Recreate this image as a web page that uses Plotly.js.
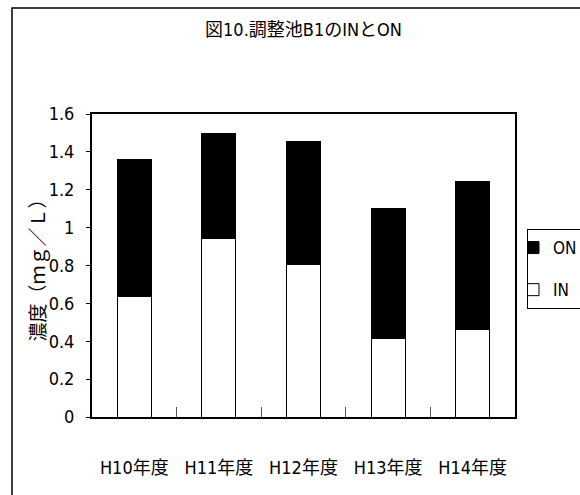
<!DOCTYPE html>
<html>
<head>
<meta charset="utf-8">
<script src="https://cdn.plot.ly/plotly-3.0.1.min.js"></script>
<style>
  html, body { margin: 0; padding: 0; background: #fff; }
  #chart { width: 580px; height: 495px; }
  /* condensed faces for the Latin text */
  #chart text { font-stretch: condensed; }
</style>
</head>
<body>
<div id="chart"></div>
<script>
// 調整池B1 の無機態窒素(IN)と有機態窒素(ON)、年度別
const years = ['H10年度', 'H11年度', 'H12年度', 'H13年度', 'H14年度'];
const inValues = [0.635, 0.94, 0.805, 0.415, 0.46];
const onValues = [0.725, 0.555, 0.65, 0.685, 0.785];
const yTickVals = [0, 0.2, 0.4, 0.6, 0.8, 1, 1.2, 1.4, 1.6];
const yTickText = ['0', '0.2', '0.4', '0.6', '0.8', '1', '1.2', '1.4', '1.6'];
const yTitle = '濃度（ｍｇ／Ｌ）';

const FONT = '"DejaVu Sans", "Noto Sans CJK JP", sans-serif';
const BLACK = '#000000';

const traces = [
  {
    type: 'bar', name: 'IN', x: years, y: inValues, legendgroup: 'in', legendrank: 2,
    marker: { color: '#ffffff', line: { color: BLACK, width: 1 } }
  },
  {
    type: 'bar', name: 'ON', x: years, y: onValues, legendgroup: 'on', legendrank: 1,
    marker: { color: BLACK, line: { color: BLACK, width: 1 } }
  }
];

const layout = {
  width: 580, height: 495,
  margin: { l: 92, r: 65, t: 114, b: 78 },
  paper_bgcolor: '#ffffff', plot_bgcolor: '#ffffff',
  font: { family: FONT, size: 17, color: BLACK },
  barmode: 'stack',
  bargap: 0.6,
  showlegend: true,
  title: {
    text: '図10.調整池B1のINとON',
    font: { family: FONT, size: 18, color: BLACK },
    x: 0.5, xref: 'paper', xanchor: 'center',
    y: 1 - 30 / 495, yref: 'container', yanchor: 'middle'
  },
  xaxis: {
    type: 'category',
    showline: true, linecolor: BLACK, linewidth: 2, mirror: true,
    ticks: 'inside', tickson: 'boundaries', ticklen: 10, tickcolor: '#555555', tickwidth: 1,
    tickfont: { family: FONT, size: 18, color: BLACK },
    ticklabelstandoff: 33,
    showgrid: false, zeroline: false, fixedrange: true
  },
  yaxis: {
    range: [0, 1.6],
    tickvals: yTickVals, ticktext: yTickText,
    showline: true, linecolor: BLACK, linewidth: 2, mirror: true,
    ticks: 'outside', ticklen: 4, tickcolor: BLACK, tickwidth: 1,
    tickfont: { family: FONT, size: 18, color: BLACK },
    ticklabelstandoff: 8,
    showgrid: false, zeroline: false, fixedrange: true,
    automargin: false
  },
  annotations: [
    // y-axis title, rotated
    {
      text: yTitle, textangle: -90, showarrow: false,
      xref: 'paper', yref: 'paper',
      x: (38 - 92) / 423, y: 0.5, xanchor: 'center', yanchor: 'middle',
      font: { family: FONT, size: 19, color: BLACK }
    }
  ],
  legend: {
    xref: 'container', yref: 'container',
    x: 527 / 580, xanchor: 'left',
    y: 1 - 229 / 495, yanchor: 'top',
    traceorder: 'grouped',
    tracegroupgap: 17,
    bordercolor: BLACK, borderwidth: 1, bgcolor: '#ffffff',
    font: { family: FONT, size: 17, color: BLACK },
    itemwidth: 30,
    indentation: -15
  },
  shapes: [
    // outer chart frame
    {
      type: 'rect', xref: 'paper', yref: 'paper',
      x0: (12 - 92) / 423, x1: (600 - 92) / 423,
      y0: (417 - 510) / 303, y1: (417 - 8) / 303,
      line: { color: BLACK, width: 1.5 }, fillcolor: 'rgba(0,0,0,0)',
      layer: 'below'
    }
  ]
};

Plotly.newPlot('chart', traces, layout, { displayModeBar: false, staticPlot: true });
</script>
</body>
</html>
